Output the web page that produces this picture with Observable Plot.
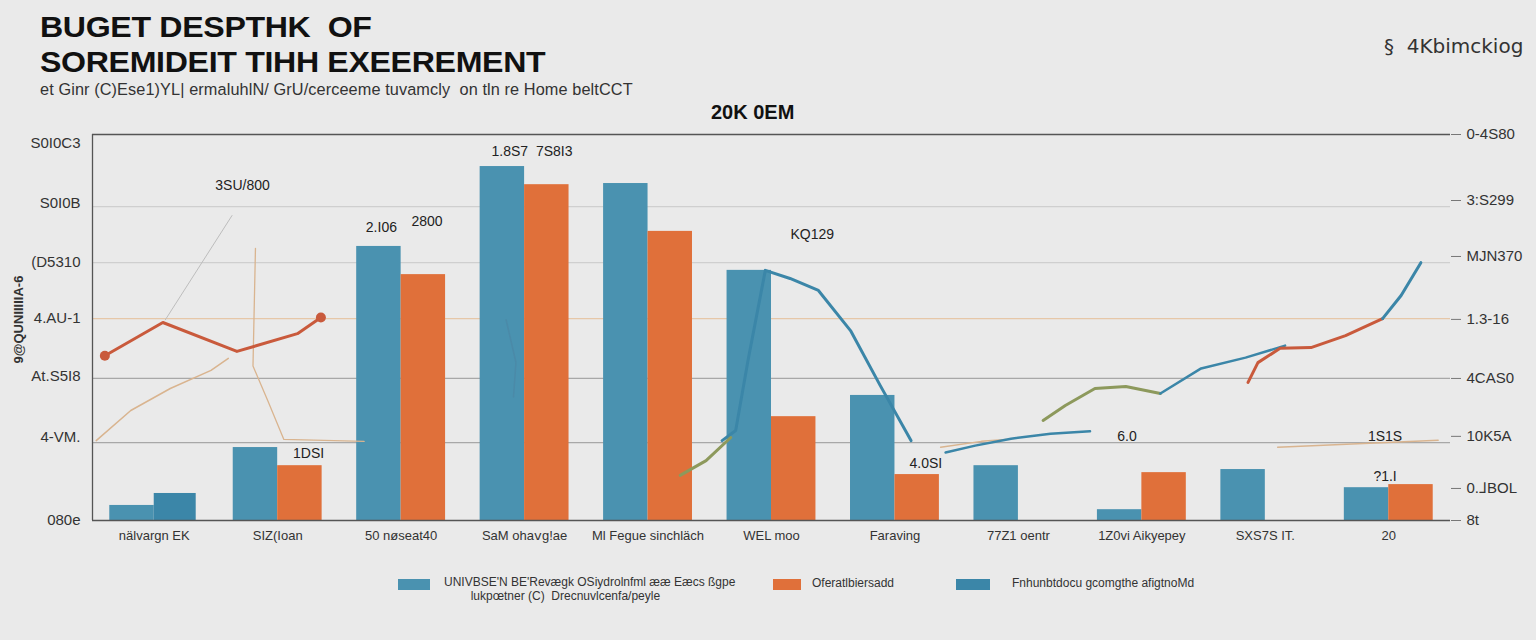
<!DOCTYPE html>
<html><head><meta charset="utf-8">
<script src="https://cdn.jsdelivr.net/npm/d3@7"></script>
<script src="https://cdn.jsdelivr.net/npm/@observablehq/plot@0.6"></script>
<style>
body{margin:0;background:#eaeaea;width:1536px;height:640px;overflow:hidden;position:relative;font-family:"Liberation Sans",Arial,sans-serif;color:#1a1a1a}
.t{position:absolute;white-space:nowrap}
.ttl{position:absolute;white-space:nowrap;left:40px;font:bold 30px/30px 'Liberation Sans',sans-serif;letter-spacing:-0.3px;color:#111;transform:scaleX(1.07);transform-origin:left top}
#chart{position:absolute;left:0;top:110px}
.sw{position:absolute;height:11px}
</style></head><body>
<div class="ttl" style="top:12px">BUGET DESPTHK&nbsp; OF</div>
<div class="ttl" style="top:47px">SOREMIDEIT TIHH EXEEREMENT</div>
<div class="t" style="left:40px;top:80px;font:16.3px 'Liberation Sans',sans-serif;color:#333;letter-spacing:0.1px">et Ginr (C)Ese1)YL| ermaluhlN/ GrU/cerceeme tuvamcly&nbsp; on tln re Home beltCCT</div>
<div class="t" style="left:1384px;top:34px;font:20px 'DejaVu Sans',sans-serif;color:#333">&#167;&nbsp; 4Kbimckiog</div>
<div class="t" style="left:711px;top:101px;font:bold 20px 'Liberation Sans',sans-serif;color:#111">20K 0EM</div>
<div class="t" style="left:-42px;top:312px;transform:rotate(-90deg);font:bold 13px 'Liberation Sans',sans-serif;color:#333;width:120px;text-align:center">9@QUNIIIIIA-6</div>
<div id="chart"></div>
<div class="sw" style="left:398px;top:579px;width:32px;background:#4a92b0"></div>
<div class="t" style="left:444px;top:575px;font:12px 'Liberation Sans',sans-serif;color:#333;line-height:14px">UNIVBSE'N BE'Revægk OSiydrolnfml ææ Eæcs ßgpe<br>&nbsp;&nbsp;&nbsp;&nbsp;&nbsp;&nbsp;&nbsp;&nbsp;lukpœtner (C)&nbsp; Drecnuvlcenfa/peyle</div>
<div class="sw" style="left:773px;top:579px;width:28px;background:#e0703a"></div>
<div class="t" style="left:812px;top:576px;font:12px 'Liberation Sans',sans-serif;color:#333">Oferatlbiersadd</div>
<div class="sw" style="left:956px;top:579px;width:34px;background:#3b86a8"></div>
<div class="t" style="left:1012px;top:576px;font:12px 'Liberation Sans',sans-serif;color:#333">Fnhunbtdocu gcomgthe afigtnoMd</div>
<script>
// ---- data ----
const categories = ["nälvargn EK","SIZ(Ioan","50 nøseat40","SaM ohaⅴg!ae","Ml Fegue sinchläch","WEL moo","Faraving","77Z1 oentr","1Z0vi Aikyepey","SXS7S IT.","20"];
const seriesA = [3.9, 18.9, 71.0, 91.7, 87.3, 64.8, 32.4, 14.2, 2.8, 13.2, 8.5];
const seriesB = [null, 14.2, 63.7, 87.0, 74.9, 26.9, 11.9, null, 12.4, null, 9.3];
const seriesC = [7.0, null, null, null, null, null, null, null, null, null, null];
const leftTicks = [0, 21.5, 37.3, 52.3, 66.8, 82.1, 97.7];
const leftLabels = ["080e","4-VM.","At.S5I8","4.AU-1","(D5310","S0I0B","S0I0C3"];
const rightTicks = [0, 8.3, 21.8, 36.8, 52.1, 68.4, 82.9, 100];
const rightLabels = ["8t","0.⅃BOL","10K5A","4CAS0","1.3-16","MJN370","3:S299","0-4S80"];
const gridLight = [81.3, 66.8];
const gridWarm = [52.3];
const gridGray = [36.8, 20.2];
const frameRules = [0, 100];
const valueLabels = [
  {x:1.215,y:86.8,t:"3SU/800"},{x:2.34,y:75.9,t:"2.I06"},{x:2.71,y:77.5,t:"2800"},
  {x:3.56,y:95.6,t:"1.8S7  7S8I3"},{x:5.83,y:74.1,t:"KQ129"},{x:1.75,y:17.4,t:"1DSI"},
  {x:6.75,y:14.8,t:"4.0SI"},{x:8.38,y:21.8,t:"6.0"},{x:10.47,y:21.8,t:"1S1S"},{x:10.47,y:11.4,t:"?1.I"}
];
const lineRed1 = [[0.10,42.7],[0.57,51.3],[1.17,43.8],[1.66,48.4],[1.85,52.6]];
const lineTan1 = [[0.03,20.7],[0.31,28.5],[0.63,34.2],[0.96,38.9],[1.10,42.0]];
const lineTan2 = [[1.32,70.5],[1.30,40],[1.42,31],[1.55,21],[2.2,20.5]];
const lineGrayThin = [[0.59,52.0],[1.13,79.0]];
const lineBlue1 = [[5.10,20.7],[5.21,23.3],[5.31,41.5],[5.45,64.8],[5.65,62.7],[5.88,59.6],[6.14,49.2],[6.38,35.0],[6.63,20.7]];
const lineOlive1 = [[4.76,11.7],[4.97,15.5],[5.17,21.5]];
const lineOlive2 = [[7.70,25.9],[7.88,29.8],[8.12,34.2],[8.37,34.7],[8.65,32.9]];
const lineBlue2 = [[8.65,32.9],[8.98,39.4],[9.34,42.2],[9.66,45.3]];
const lineRed2 = [[9.36,35.8],[9.44,40.9],[9.62,44.6],[9.87,44.8],[10.15,47.9],[10.45,52.3]];
const lineBlue3 = [[10.45,52.3],[10.60,58.3],[10.76,66.8]];
const lineBlue4 = [[6.91,17.6],[7.15,19.4],[7.44,21.2],[7.76,22.5],[8.08,23.1]];
const lineTan3 = [[6.87,19.0],[7.2,20.5],[7.4,21.0]];
const lineTan4 = [[9.6,19.0],[10.9,20.8]];
const lineBlueThin = [[3.35,52.0],[3.43,41.0],[3.41,32.0]];

const idx = categories.map((_, i) => i);
const BLUE = "#4a92b0", ORANGE = "#e0703a", DBLUE = "#3b86a8", RED = "#c95a3c", OLIVE = "#8d995c", TAN = "#d9b48f";
const P = d => d[0], Q = d => d[1];
const ln = (data, stroke, w) => Plot.line(data, {x: P, y: Q, stroke, strokeWidth: w, curve: "linear"});

const chart = Plot.plot({
  width: 1536, height: 440,
  marginLeft: 92, marginRight: 86, marginTop: 24, marginBottom: 30,
  style: {background: "transparent", fontFamily: "'Liberation Sans',sans-serif", color: "#333"},
  x: {domain: [0, 11], axis: null},
  y: {domain: [0, 100], axis: null},
  marks: [
    Plot.ruleY(gridLight, {stroke: "#cfcfcf", strokeWidth: 1.2}),
    Plot.ruleY(gridWarm, {stroke: "#e6c7a8", strokeWidth: 1.2}),
    Plot.ruleY(gridGray, {stroke: "#a8a8a8", strokeWidth: 1.2}),
    Plot.rectY(idx, {x1: i => i + 0.14, x2: i => i + 0.5, y: i => seriesA[i], fill: BLUE, filter: i => seriesA[i] != null}),
    Plot.rectY(idx, {x1: i => i + 0.5, x2: i => i + 0.86, y: i => seriesB[i], fill: ORANGE, filter: i => seriesB[i] != null}),
    Plot.rectY(idx, {x1: i => i + 0.5, x2: i => i + 0.84, y: i => seriesC[i], fill: DBLUE, filter: i => seriesC[i] != null}),
    ln(lineGrayThin, "#bdbdbd", 1),
    ln(lineTan1, TAN, 1.5),
    ln(lineTan2, TAN, 1.3),
    ln(lineTan3, TAN, 1.5),
    ln(lineTan4, TAN, 1.5),
    ln(lineBlueThin, "#4b8aa8", 1.5),
    ln(lineRed1, RED, 3),
    Plot.dot([lineRed1[0], lineRed1[lineRed1.length - 1]], {x: P, y: Q, r: 5, fill: RED}),
    ln(lineBlue1, DBLUE, 3),
    ln(lineOlive1, OLIVE, 3),
    ln(lineOlive2, OLIVE, 3),
    ln(lineBlue2, DBLUE, 2.5),
    ln(lineRed2, RED, 3),
    ln(lineBlue3, DBLUE, 3),
    ln(lineBlue4, DBLUE, 2.5),
    Plot.ruleY(frameRules, {stroke: "#555", strokeWidth: 1.3}),
    Plot.ruleX([0], {y1: 0, y2: 100, stroke: "#555", strokeWidth: 1.3}),
    Plot.text(valueLabels, {x: "x", y: "y", text: "t", fontSize: 14, fill: "#222"}),
    Plot.axisY(leftTicks, {anchor: "left", tickSize: 0, tickPadding: 12, fontSize: 15, tickFormat: d => leftLabels[leftTicks.indexOf(d)], label: null}),
    Plot.axisY(rightTicks, {anchor: "right", tickSize: 10, tickPadding: 6, fontSize: 15, stroke: "#777", tickFormat: d => rightLabels[rightTicks.indexOf(d)], label: null}),
    Plot.axisX(idx.map(i => i + 0.5), {anchor: "bottom", tickSize: 0, tickPadding: 10, fontSize: 13, tickFormat: d => categories[Math.floor(d)], label: null})
  ]
});
document.getElementById("chart").appendChild(chart);
</script>
</body></html>
